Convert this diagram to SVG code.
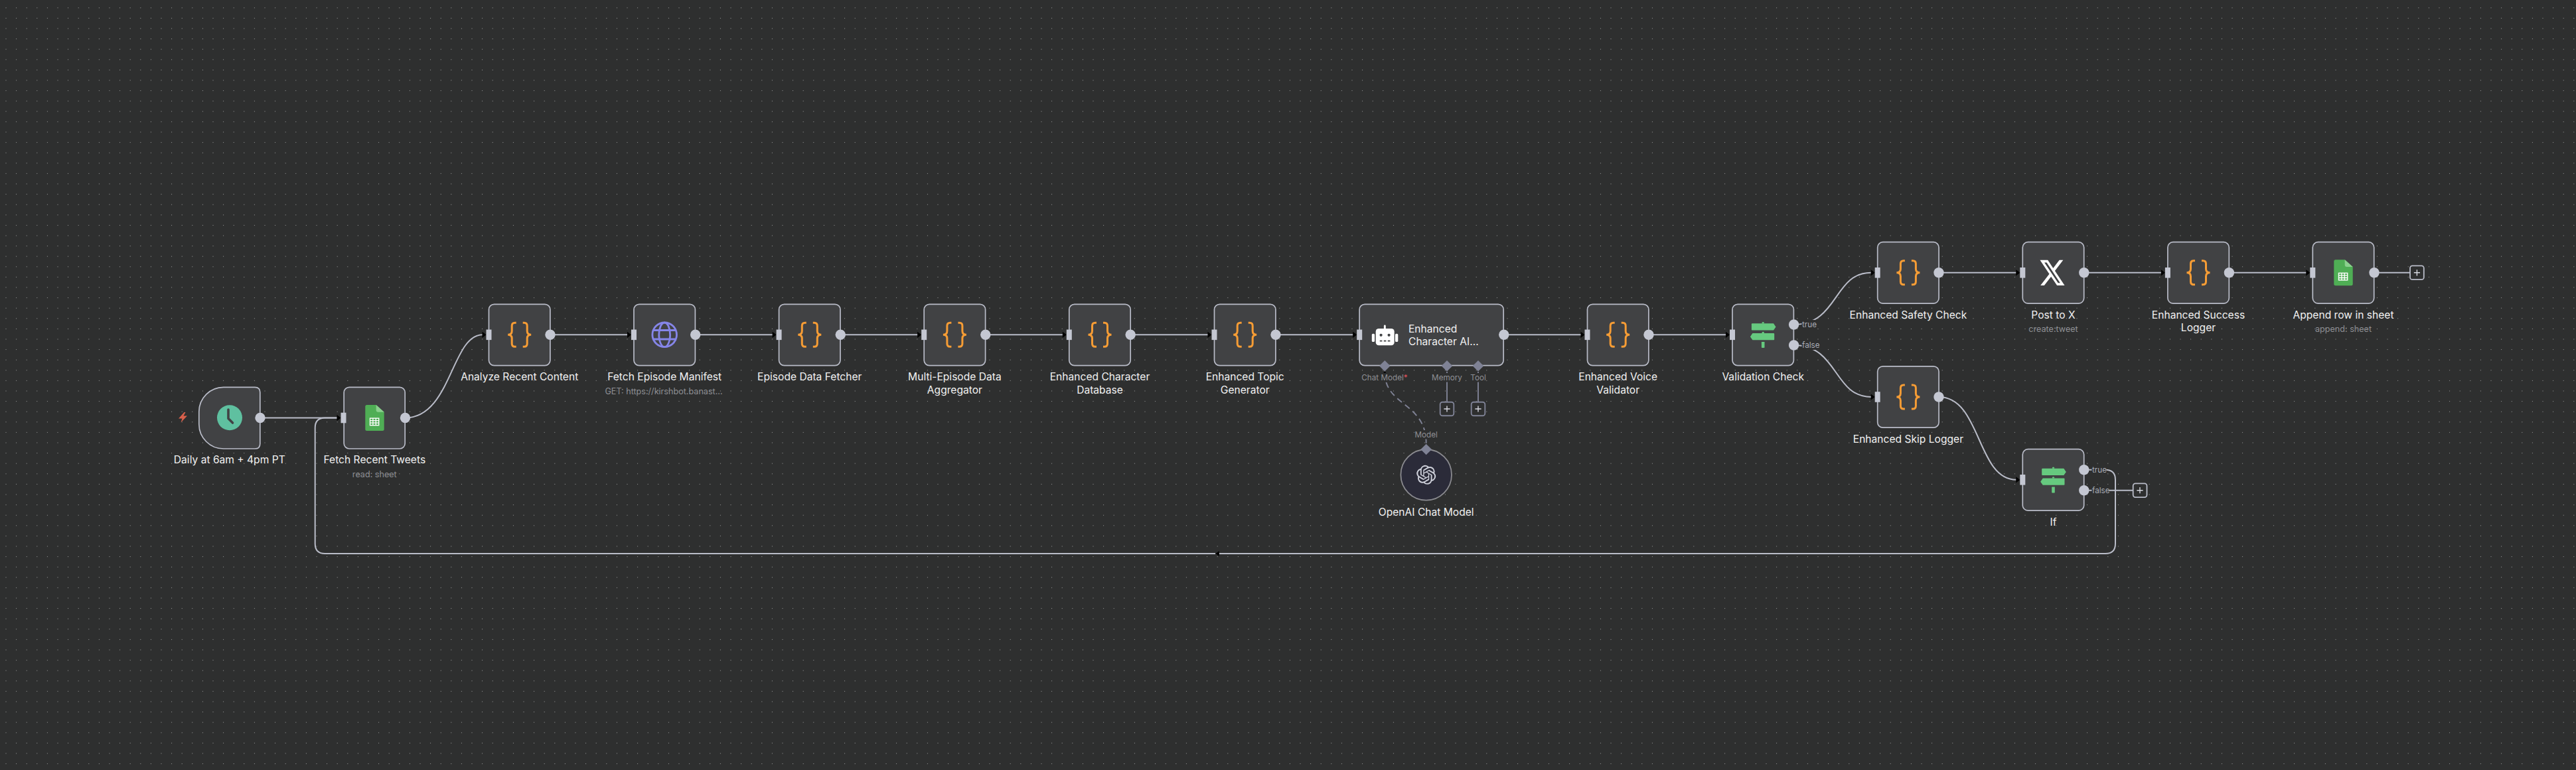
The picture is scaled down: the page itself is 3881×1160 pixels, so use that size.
<svg xmlns="http://www.w3.org/2000/svg" xmlns:xlink="http://www.w3.org/1999/xlink" width="3881" height="1160" viewBox="0 0 3881 1160">
<style>
text{font-family:"Inter","Liberation Sans",sans-serif}
.n{fill:#414244;stroke:#b9bcc8;stroke-width:1.7}
.in{fill:#c4c7d2}
.out{fill:#c4c7d2}
.c{fill:none;stroke:#b9bcc8;stroke-width:2}
.s{fill:none;stroke:#7f8295;stroke-width:1.9}
.d{fill:none;stroke:#7f8295;stroke-width:1.9;stroke-dasharray:9 6}
.l{fill:#f1f1f1;font-size:15.6px;text-anchor:middle}
.l2{fill:#8f9095;font-size:12.6px;text-anchor:middle}
.p{fill:#8f9095;font-size:11.7px;text-anchor:middle}
.t{fill:#a9acb6;font-size:11.7px}
.bg{fill:#2e2f2f}
.a{fill:#000}
.dm{fill:#7f8295}
.pl{fill:#2e2f2f;stroke:#b9bcc8;stroke-width:1.8}
.pl2{fill:#2e2f2f;stroke:#7f8295;stroke-width:1.9}
.plus{stroke:#d6d8e0;stroke-width:1.4;fill:none}
</style>
<defs>
<pattern id="grid" x="8.5" y="11.3" width="15.6" height="15.6" patternUnits="userSpaceOnUse"><rect width="1" height="1" fill="#9a9b9b"/></pattern>
<g id="code"><path fill="none" stroke="#f59c35" stroke-width="3" d="M-5,-18H-7Q-11.5,-18-11.5,-13.5V-5.5Q-11.5,0-17.5,0Q-11.5,0-11.5,5.5V13.5Q-11.5,18-7,18H-5M5,-18H7Q11.5,-18 11.5,-13.5V-5.5Q11.5,0 17.5,0Q11.5,0 11.5,5.5V13.5Q11.5,18 7,18H5"/></g>
<g id="sheet"><path fill="#4fae55" d="M-14.2,-17q0-2.5 2.5-2.5H2.2L14.2,-8.8V17q0,2.5-2.5,2.5H-11.7q-2.5,0-2.5-2.5Z"/><path fill="#8bd08e" d="M2.2,-19.5L14.2,-8.8H5.2Q2.2,-8.8 2.2,-12Z"/><g fill="none" stroke="#fff" stroke-width="1.4"><rect x="-7" y="0.6" width="13.2" height="10.6"/><path d="M-7,4.1H6.2M-7,7.7H6.2M-2.6,0.6V11.2M1.8,0.6V11.2" stroke-width="1.3"/></g></g>
<g id="sign" fill="#66c97f"><path d="M-16.3,-17H15.8L19.3,-11.9L15.8,-6.7H-16.3Q-17.3,-6.7-17.3,-7.7V-16Q-17.3,-17-16.3,-17Z"/><path d="M-15.8,-2.3H16Q17,-2.3 17,-1.3V7Q17,8 16,8H-15.8L-19.3,2.9Z"/><path d="M-1.6,-17V-18.5Q0,-20.2 1.6,-18.5V-17ZM-1.6,-2.3V-3.8Q0,-5.5 1.6,-3.8V-2.3ZM-2.3,10.7H2.3V19A.8.8 0 0 1 1.5,19.8H-1.5A.8.8 0 0 1-2.3,19Z"/></g>
<path id="arrow" class="a" d="M-6,-4.6L0,0L-6,4.6Z"/>
<g id="cross"><path class="plus" d="M-4.6,0H4.6M0,-4.6V4.6"/></g>
</defs>
<rect width="3881" height="1160" fill="#2e2f2f"/>
<rect width="3881" height="1160" fill="url(#grid)"/>

<g id="connectors">
<path class="c" d="M391,629.5H508"/>
<path class="c" d="M610,629.5C680,629.5 680,504.3 727,504.3"/>
<path class="c" d="M829,504.3H945.5"/>
<path class="c" d="M1047.7,504.3H1164"/>
<path class="c" d="M1266.3,504.3H1382.7"/>
<path class="c" d="M1484.8,504.3H1601.3"/>
<path class="c" d="M1703.2,504.3H1820"/>
<path class="c" d="M1922,504.3H2038.7"/>
<path class="c" d="M2265.3,504.3H2382"/>
<path class="c" d="M2483.8,504.3H2600.5"/>
<path class="c" d="M2702.4,489C2770,489 2762,410.8 2819,410.8"/>
<path class="c" d="M2702.4,520C2770,520 2762,598 2819,598"/>
<path class="c" d="M2921,410.8H3037.8"/>
<path class="c" d="M3139.6,410.8H3256.4"/>
<path class="c" d="M3358,410.8H3475"/>
<path class="c" d="M3576.7,410.8H3631"/>
<path class="c" d="M2921,598C2985,598 2978,722.8 3037.8,722.8"/>
<path class="c" d="M3139.7,707.7H3172Q3187,707.7 3187,722.7V819Q3187,834 3172,834H1837M1831,834H489.7Q474.7,834 474.7,819V644.5Q474.7,629.5 489.7,629.5H508"/>
<path class="c" d="M3139.7,738.7H3213.5"/>
<path class="d" d="M2086.3,561C2086.3,612 2148.7,606 2148.7,668"/>
<path class="s" d="M2180,560V605.7M2227,560V605.7"/>
<use href="#arrow" x="513.5" y="629.5"/>
<use href="#arrow" x="732.5" y="504.3"/>
<use href="#arrow" x="951" y="504.3"/>
<use href="#arrow" x="1169.6" y="504.3"/>
<use href="#arrow" x="1388.2" y="504.3"/>
<use href="#arrow" x="1606.8" y="504.3"/>
<use href="#arrow" x="1825.5" y="504.3"/>
<use href="#arrow" x="2044.2" y="504.3"/>
<use href="#arrow" x="2387.5" y="504.3"/>
<use href="#arrow" x="2606" y="504.3"/>
<use href="#arrow" x="2824.7" y="410.8"/>
<use href="#arrow" x="2824.7" y="598"/>
<use href="#arrow" x="3043.3" y="410.8"/>
<use href="#arrow" x="3261.9" y="410.8"/>
<use href="#arrow" x="3480.3" y="410.8"/>
<use href="#arrow" x="3043.3" y="722.8"/>
<path class="a" d="M1831.7,834L1836.7,830V838Z"/>
<path class="a" d="M2086.3,559.5L2090.3,564H2082.3Z"/>
</g>

<g id="node-trigger">
<path style="fill:#d8604b" d="M277.5,621L269,630.5H274.5L272.5,636.5L282,626.5H276.5L279.5,621Z"/>
<path class="n" d="M337,583.3H384Q391.8,583.3 391.8,591V668.4Q391.8,676 384,676H337A37,37 0 0 1 299.8,639V620.3A37,37 0 0 1 337,583.3Z"/>
<circle cx="346" cy="629.3" r="19" fill="#5fc0a0"/>
<path d="M344,617V630.5L350.5,637" fill="none" stroke="#414244" stroke-width="3.6" stroke-linecap="round" stroke-linejoin="round"/>
<circle class="out" cx="392" cy="629.5" r="7.7"/>
<text class="l" x="345.8" y="697.5">Daily at 6am + 4pm PT</text>
</g>

<g id="node-fetch-recent-tweets">
<rect class="n" x="518.2" y="583.3" width="92" height="92.7" rx="8"/>
<rect class="in" x="513.5" y="621.7" width="8" height="15.6"/>
<use href="#sheet" x="564.5" y="629.5"/>
<circle class="out" cx="610.5" cy="629.5" r="7.7"/>
<text class="l" x="564.3" y="697.5">Fetch Recent Tweets</text>
<text class="l2" x="564.3" y="718.5">read: sheet</text>
</g>

<g id="node-analyze-recent-content">
<rect class="n" x="736.5" y="458.3" width="92.4" height="92.4" rx="8"/>
<rect class="in" x="732.5" y="496.5" width="8" height="15.6"/>
<use href="#code" x="782.7" y="504.3"/>
<circle class="out" cx="829" cy="504.3" r="7.7"/>
<text class="l" x="782.7" y="573.3">Analyze Recent Content</text>
</g>

<g id="node-fetch-episode-manifest">
<rect class="n" x="955" y="458.3" width="92.4" height="92.4" rx="8"/>
<rect class="in" x="951" y="496.5" width="8" height="15.6"/>
<g fill="none" stroke="#8585e8" stroke-width="2.8"><circle cx="1001.2" cy="504.3" r="18.3"/><ellipse cx="1001.2" cy="504.3" rx="8.4" ry="18.3"/><path d="M984.5,497.5H1018M984.5,511H1018"/></g>
<circle class="out" cx="1047.7" cy="504.3" r="7.7"/>
<text class="l" x="1001.2" y="573.3">Fetch Episode Manifest</text>
<text class="l2" x="1000" y="593.5">GET: https://kirshbot.banast...</text>
</g>

<g id="node-episode-data-fetcher">
<rect class="n" x="1173.6" y="458.3" width="92.4" height="92.4" rx="8"/>
<rect class="in" x="1169.6" y="496.5" width="8" height="15.6"/>
<use href="#code" x="1219.8" y="504.3"/>
<circle class="out" cx="1266.3" cy="504.3" r="7.7"/>
<text class="l" x="1219.8" y="573.3">Episode Data Fetcher</text>
</g>

<g id="node-multi-episode-data-aggregator">
<rect class="n" x="1392.2" y="458.3" width="92.4" height="92.4" rx="8"/>
<rect class="in" x="1388.2" y="496.5" width="8" height="15.6"/>
<use href="#code" x="1438.4" y="504.3"/>
<circle class="out" cx="1484.8" cy="504.3" r="7.7"/>
<text class="l" x="1438.4" y="573.3">Multi-Episode Data</text>
<text class="l" x="1438.4" y="592.9">Aggregator</text>
</g>

<g id="node-enhanced-character-database">
<rect class="n" x="1610.8" y="458.3" width="92.4" height="92.4" rx="8"/>
<rect class="in" x="1606.8" y="496.5" width="8" height="15.6"/>
<use href="#code" x="1657" y="504.3"/>
<circle class="out" cx="1703.2" cy="504.3" r="7.7"/>
<text class="l" x="1657" y="573.3">Enhanced Character</text>
<text class="l" x="1657" y="592.9">Database</text>
</g>

<g id="node-enhanced-topic-generator">
<rect class="n" x="1829.5" y="458.3" width="92.4" height="92.4" rx="8"/>
<rect class="in" x="1825.5" y="496.5" width="8" height="15.6"/>
<use href="#code" x="1875.7" y="504.3"/>
<circle class="out" cx="1922" cy="504.3" r="7.7"/>
<text class="l" x="1875.7" y="573.3">Enhanced Topic</text>
<text class="l" x="1875.7" y="592.9">Generator</text>
</g>

<g id="node-enhanced-character-ai">
<rect class="n" x="2048.2" y="458.3" width="217" height="92.4" rx="8"/>
<rect class="in" x="2044.2" y="496.5" width="8" height="15.6"/>
<g fill="#fff"><rect x="2072.7" y="495" width="28" height="25.3" rx="4.5"/><rect x="2084.9" y="489.5" width="2.9" height="7" rx="1.4"/><rect x="2066.8" y="502.8" width="4.3" height="12.2" rx="1.6"/><rect x="2102" y="502.8" width="4.3" height="12.2" rx="1.6"/></g>
<g fill="#414244"><circle cx="2080.6" cy="504.8" r="2.1"/><circle cx="2092.6" cy="504.8" r="2.1"/><rect x="2078.8" y="512.7" width="3.6" height="1.8"/><rect x="2084.8" y="512.7" width="3.6" height="1.8"/><rect x="2090.8" y="512.7" width="3.6" height="1.8"/></g>
<text style="fill:#f1f1f1;font-size:15.6px" x="2122" y="500.8">Enhanced</text>
<text style="fill:#f1f1f1;font-size:15.6px" x="2122" y="520.3">Character AI...</text>
<circle class="out" cx="2265.8" cy="504.3" r="7.7"/>
<path class="dm" d="M2086.3,543L2094.6,551.3L2086.3,559.6L2078,551.3Z"/>
<path class="dm" d="M2180,543L2188.3,551.3L2180,559.6L2171.7,551.3Z"/>
<path class="dm" d="M2227,543L2235.3,551.3L2227,559.6L2218.7,551.3Z"/>
<rect class="bg" x="2052" y="562" width="69" height="13.5"/>
<text class="p" x="2086" y="572.8">Chat Model<tspan fill="#e0535e">*</tspan></text>
<rect class="bg" x="2157" y="562" width="46" height="13.5"/>
<text class="p" x="2180" y="572.8">Memory</text>
<rect class="bg" x="2215" y="562" width="24" height="13.5"/>
<text class="p" x="2227" y="572.8">Tool</text>
<rect class="pl2" x="2169.7" y="605.7" width="20.6" height="20.6" rx="3.5"/><use href="#cross" x="2180" y="616"/>
<rect class="pl2" x="2216.7" y="605.7" width="20.6" height="20.6" rx="3.5"/><use href="#cross" x="2227" y="616"/>
</g>

<g id="node-openai-chat-model">
<circle cx="2148.7" cy="715.3" r="38.3" fill="#2b2b39" stroke="#8b8b90" stroke-width="1.8"/>
<path transform="translate(2134.2,700.8) scale(1.21)" fill="#cfd1db" d="M22.2819 9.8211a5.9847 5.9847 0 0 0-.5157-4.9108 6.0462 6.0462 0 0 0-6.5098-2.9A6.0651 6.0651 0 0 0 4.9807 4.1818a5.9847 5.9847 0 0 0-3.9977 2.9 6.0462 6.0462 0 0 0 .7427 7.0966 5.98 5.98 0 0 0 .511 4.9107 6.051 6.051 0 0 0 6.5146 2.9001A5.9847 5.9847 0 0 0 13.2599 24a6.0557 6.0557 0 0 0 5.7718-4.2058 5.9894 5.9894 0 0 0 3.9977-2.9001 6.0557 6.0557 0 0 0-.7475-7.0729zm-9.022 12.6081a4.4755 4.4755 0 0 1-2.8764-1.0408l.1419-.0804 4.7783-2.7582a.7948.7948 0 0 0 .3927-.6813v-6.7369l2.02 1.1686a.071.071 0 0 1 .038.052v5.5826a4.504 4.504 0 0 1-4.4945 4.4944zm-9.6607-4.1254a4.4708 4.4708 0 0 1-.5346-3.0137l.142.0852 4.783 2.7582a.7712.7712 0 0 0 .7806 0l5.8428-3.3685v2.3324a.0804.0804 0 0 1-.0332.0615L9.74 19.9502a4.4992 4.4992 0 0 1-6.1408-1.6464zM2.3408 7.8956a4.485 4.485 0 0 1 2.3655-1.9728V11.6a.7664.7664 0 0 0 .3879.6765l5.8144 3.3543-2.0201 1.1685a.0757.0757 0 0 1-.071 0l-4.8303-2.7865A4.504 4.504 0 0 1 2.3408 7.872zm16.5963 3.8558L13.1038 8.364 15.1192 7.2a.0757.0757 0 0 1 .071 0l4.8303 2.7913a4.4944 4.4944 0 0 1-.6765 8.1042v-5.6772a.79.79 0 0 0-.407-.667zm2.0107-3.0231l-.142-.0852-4.7735-2.7818a.7759.7759 0 0 0-.7854 0L9.409 9.2297V6.8974a.0662.0662 0 0 1 .0284-.0615l4.8303-2.7866a4.4992 4.4992 0 0 1 6.6802 4.66zM8.3065 12.863l-2.02-1.1638a.0804.0804 0 0 1-.038-.0567V6.0742a4.4992 4.4992 0 0 1 7.3757-3.4537l-.142.0805L8.704 5.459a.7948.7948 0 0 0-.3927.6813zm1.0976-2.3654l2.602-1.4998 2.6069 1.4998v2.9994l-2.5974 1.4997-2.6067-1.4997Z"/>
<path class="dm" d="M2148.7,668.7L2157,677L2148.7,685.3L2140.4,677Z"/>
<rect class="bg" x="2131" y="648" width="36" height="13.5"/>
<text class="p" x="2148.7" y="658.8">Model</text>
<text class="l" x="2148.7" y="776.5">OpenAI Chat Model</text>
</g>

<g id="node-enhanced-voice-validator">
<rect class="n" x="2391.5" y="458.3" width="92.4" height="92.4" rx="8"/>
<rect class="in" x="2387.5" y="496.5" width="8" height="15.6"/>
<use href="#code" x="2437.7" y="504.3"/>
<circle class="out" cx="2484" cy="504.3" r="7.7"/>
<text class="l" x="2437.7" y="573.3">Enhanced Voice</text>
<text class="l" x="2437.7" y="592.9">Validator</text>
</g>

<g id="node-validation-check">
<rect class="n" x="2610" y="458.3" width="92.4" height="92.4" rx="8"/>
<rect class="in" x="2606" y="496.5" width="8" height="15.6"/>
<use href="#sign" x="2656.2" y="504.3"/>
<circle class="out" cx="2702.6" cy="489" r="7.7"/>
<circle class="out" cx="2702.6" cy="520" r="7.7"/>
<rect class="bg" x="2714.5" y="482" width="22" height="14"/>
<text class="t" x="2715" y="493.4">true</text>
<rect class="bg" x="2714.5" y="513" width="26.5" height="14"/>
<text class="t" x="2715" y="524.4">false</text>
<text class="l" x="2656.2" y="573.3">Validation Check</text>
</g>

<g id="node-enhanced-safety-check">
<rect class="n" x="2828.7" y="364.7" width="92.4" height="92.4" rx="8"/>
<rect class="in" x="2824.7" y="403" width="8" height="15.6"/>
<use href="#code" x="2874.9" y="410.8"/>
<circle class="out" cx="2921" cy="410.8" r="7.7"/>
<text class="l" x="2874.9" y="479.7">Enhanced Safety Check</text>
</g>

<g id="node-post-to-x">
<rect class="n" x="3047.3" y="364.7" width="92.4" height="92.4" rx="8"/>
<rect class="in" x="3043.3" y="403" width="8" height="15.6"/>
<path transform="translate(3071.3,387.4) scale(1.72,1.96)" fill="#fff" d="M18.244 2.25h3.308l-7.227 8.26 8.502 11.24H16.17l-5.214-6.817L4.99 21.75H1.68l7.73-8.835L1.254 2.25H8.08l4.713 6.231zm-1.161 17.52h1.833L7.084 4.126H5.117z"/>
<circle class="out" cx="3139.8" cy="410.8" r="7.7"/>
<text class="l" x="3093.5" y="479.7">Post to X</text>
<text class="l2" x="3093.5" y="500">create:tweet</text>
</g>

<g id="node-enhanced-success-logger">
<rect class="n" x="3265.9" y="364.7" width="92.4" height="92.4" rx="8"/>
<rect class="in" x="3261.9" y="403" width="8" height="15.6"/>
<use href="#code" x="3312" y="410.8"/>
<circle class="out" cx="3358.4" cy="410.8" r="7.7"/>
<text class="l" x="3312" y="479.7">Enhanced Success</text>
<text class="l" x="3312" y="499.3">Logger</text>
</g>

<g id="node-append-row-in-sheet">
<rect class="n" x="3484.3" y="364.7" width="92.4" height="92.4" rx="8"/>
<rect class="in" x="3480.3" y="403" width="8" height="15.6"/>
<use href="#sheet" x="3530.5" y="410.8"/>
<circle class="out" cx="3577" cy="410.8" r="7.7"/>
<text class="l" x="3530.5" y="479.7">Append row in sheet</text>
<text class="l2" x="3530.5" y="500">append: sheet</text>
<rect class="pl" x="3631" y="400.4" width="20.8" height="20.8" rx="3.5"/><use href="#cross" x="3641.4" y="410.8"/>
</g>

<g id="node-enhanced-skip-logger">
<rect class="n" x="2828.7" y="551.8" width="92.4" height="92.4" rx="8"/>
<rect class="in" x="2824.7" y="590.2" width="8" height="15.6"/>
<use href="#code" x="2874.9" y="598"/>
<circle class="out" cx="2921" cy="598" r="7.7"/>
<text class="l" x="2874.9" y="666.9">Enhanced Skip Logger</text>
</g>

<g id="node-if">
<rect class="n" x="3047.3" y="676.7" width="92.4" height="92.4" rx="8"/>
<rect class="in" x="3043.3" y="715" width="8" height="15.6"/>
<use href="#sign" x="3093.5" y="722.8"/>
<circle class="out" cx="3139.8" cy="707.7" r="7.7"/>
<circle class="out" cx="3139.8" cy="738.7" r="7.7"/>
<rect class="bg" x="3151.5" y="701" width="22" height="14"/>
<text class="t" x="3152" y="712.1">true</text>
<rect class="bg" x="3151.5" y="732" width="26.5" height="14"/>
<text class="t" x="3152" y="743.1">false</text>
<text class="l" x="3093.5" y="791.8">If</text>
<rect class="pl" x="3213.7" y="728.3" width="20.8" height="20.8" rx="3.5"/><use href="#cross" x="3224" y="738.7"/>
</g>
</svg>
